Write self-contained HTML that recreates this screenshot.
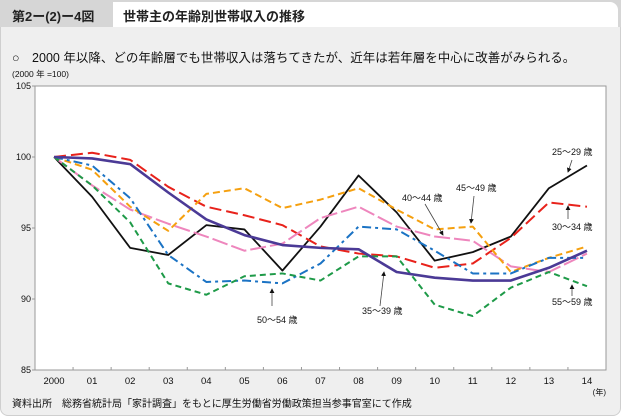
<!DOCTYPE html>
<html><head><meta charset="utf-8"><style>
body{margin:0;width:621px;height:416px;background:#fff;font-family:"Liberation Sans","Noto Sans CJK JP",sans-serif;overflow:hidden}
#wrap{position:absolute;left:0;top:0;width:619px;height:414px;background:#efefef;border:1px solid #cfcfcf;border-radius:0 8px 8px 8px}
#hdr{position:absolute;left:0;top:0;width:621px;height:27px;background:#d6d6d6}
#hl{position:absolute;left:12px;top:6px;font-size:13px;font-weight:bold;color:#222;white-space:nowrap}
#ht{position:absolute;left:113px;top:2px;width:505px;height:25px;background:#fff;border-radius:0 8px 0 0}
#ht span{position:absolute;left:10px;top:4px;font-size:13px;font-weight:bold;color:#222}
.t{position:absolute;color:#111;white-space:nowrap}
</style></head><body>
<div id="wrap"></div>
<div id="hdr"><span id="hl">第2ー(2)ー4図</span>
<div id="ht"><span>世帯主の年齢別世帯収入の推移</span></div></div>
<div class="t" style="left:12px;top:47px;font-size:12.5px">○　2000 年以降、どの年齢層でも世帯収入は落ちてきたが、近年は若年層を中心に改善がみられる。</div>
<div class="t" style="left:12px;top:68px;font-size:8.5px">(2000 年 =100)</div>
<div class="t" style="left:12px;top:395px;font-size:10px">資料出所　総務省統計局「家計調査」をもとに厚生労働省労働政策担当参事官室にて作成</div>
<svg id="chart" width="621" height="416" style="position:absolute;left:0;top:0"></svg>
<script>
const categories=["2000","01","02","03","04","05","06","07","08","09","10","11","12","13","14"];
const yTicks=[85,90,95,100,105];
const s2529=[100,97.2,93.6,93.1,95.2,94.9,92.0,95.1,98.7,96.1,92.7,93.3,94.4,97.8,99.4];
const s3034=[100,100.3,99.8,97.9,96.5,95.9,95.2,93.7,93.2,93.0,92.2,92.5,94.3,96.8,96.5];
const s3539=[100,99.9,99.5,97.5,95.6,94.5,93.8,93.6,93.5,91.9,91.5,91.3,91.3,92.2,93.4];
const s4044=[100,98.0,96.3,95.3,94.4,93.4,93.9,95.7,96.5,95.1,94.4,94.1,92.3,91.9,93.2];
const s4549=[100,99.1,96.5,94.8,97.4,97.8,96.4,97.0,97.8,96.3,94.9,95.1,91.9,92.9,93.7];
const s5054=[100,99.4,97.1,93.1,91.2,91.3,91.1,92.5,95.1,94.9,93.4,91.8,91.8,92.9,92.9];
const s5559=[100,98.0,95.4,91.1,90.3,91.6,91.8,91.3,93.0,93.0,89.6,88.8,90.8,91.9,90.9];
const seriesNames=["25～29 歳","30～34 歳","35～39 歳","40～44 歳","45～49 歳","50～54 歳","55～59 歳"];
const NS="http://www.w3.org/2000/svg";
const svg=document.getElementById('chart');
const L=35,R=606,T=86,B=370,yMin=85,yMax=105;
const band=(R-L)/categories.length;
function xS(i){return L+band*(i+0.5);}
function yS(v){return B-(v-yMin)/(yMax-yMin)*(B-T);}
function mk(tag,at){const e=document.createElementNS(NS,tag);for(const k in at)e.setAttribute(k,at[k]);svg.appendChild(e);return e;}
const plot=mk('rect',{x:L,y:T,width:R-L,height:B-T,fill:'#fff',stroke:'#999','stroke-width':1});


yTicks.forEach(v=>{
  const tx=mk('text',{x:L-4,y:yS(v)+3,'font-size':9,'text-anchor':'end',fill:'#111'});
  tx.textContent=v;
  
  
  const tk=mk('line',{x1:L-3,x2:L,y1:yS(v),y2:yS(v),stroke:'#999'});
  
  
});
categories.forEach((c,i)=>{
  const tk=mk('line',{x1:L+band*(i+1),x2:L+band*(i+1),y1:B,y2:B-3,stroke:'#999'});
  
  
  const tx=mk('text',{x:xS(i),y:B+14,'font-size':9.5,'text-anchor':'middle',fill:'#111'});
  tx.textContent=c;
  
  
});
const yr=mk('text',{x:R,y:B+25,'font-size':8,'text-anchor':'end',fill:'#111'});
yr.textContent='(年)';


const styles=[
 {d:s2529,c:'#111',w:1.8,da:'',n:'series-25-29'},
 {d:s3034,c:'#e8221b',w:2,da:'12,5',n:'series-30-34'},
 {d:s4044,c:'#ee86bd',w:2,da:'16,4',n:'series-40-44'},
 {d:s4549,c:'#f5a00f',w:2,da:'7,4',n:'series-45-49'},
 {d:s5054,c:'#1b73c4',w:2,da:'9,4,3,4',n:'series-50-54'},
 {d:s5559,c:'#1e9a48',w:2,da:'6,4',n:'series-55-59'},
 {d:s3539,c:'#4b3a96',w:2.6,da:'',n:'series-35-39'}];
styles.forEach(s=>{
  const p=mk('polyline',{points:s.d.map((v,i)=>xS(i)+','+yS(v)).join(' '),fill:'none',stroke:s.c,'stroke-width':s.w,'stroke-dasharray':s.da,'stroke-linejoin':'round'});
  
  
});
mk('defs',{}).innerHTML='<marker id="ah" markerWidth="6" markerHeight="6" refX="5" refY="3" orient="auto"><path d="M0,0L6,3L0,6z" fill="#111"/></marker>';
const ann=[
 [seriesNames[0],552,155,572,160,568,172],
 [seriesNames[1],552,230,568,219,568,206],
 [seriesNames[4],456,191,474,196,471,223],
 [seriesNames[3],402,201,425,204,443,235],
 [seriesNames[2],362,314,380,306,384,272],
 [seriesNames[5],257,323,272,306,272,289],
 [seriesNames[6],552,305,572,296,572,285]];
ann.forEach(a=>{
  const t=mk('text',{x:a[1],y:a[2],'font-size':9,fill:'#111'});
  t.textContent=a[0];
  
  
  const l=mk('line',{x1:a[3],y1:a[4],x2:a[5],y2:a[6],stroke:'#444','stroke-width':0.8,'marker-end':'url(#ah)'});
  
  
});
</script>
</body></html>
